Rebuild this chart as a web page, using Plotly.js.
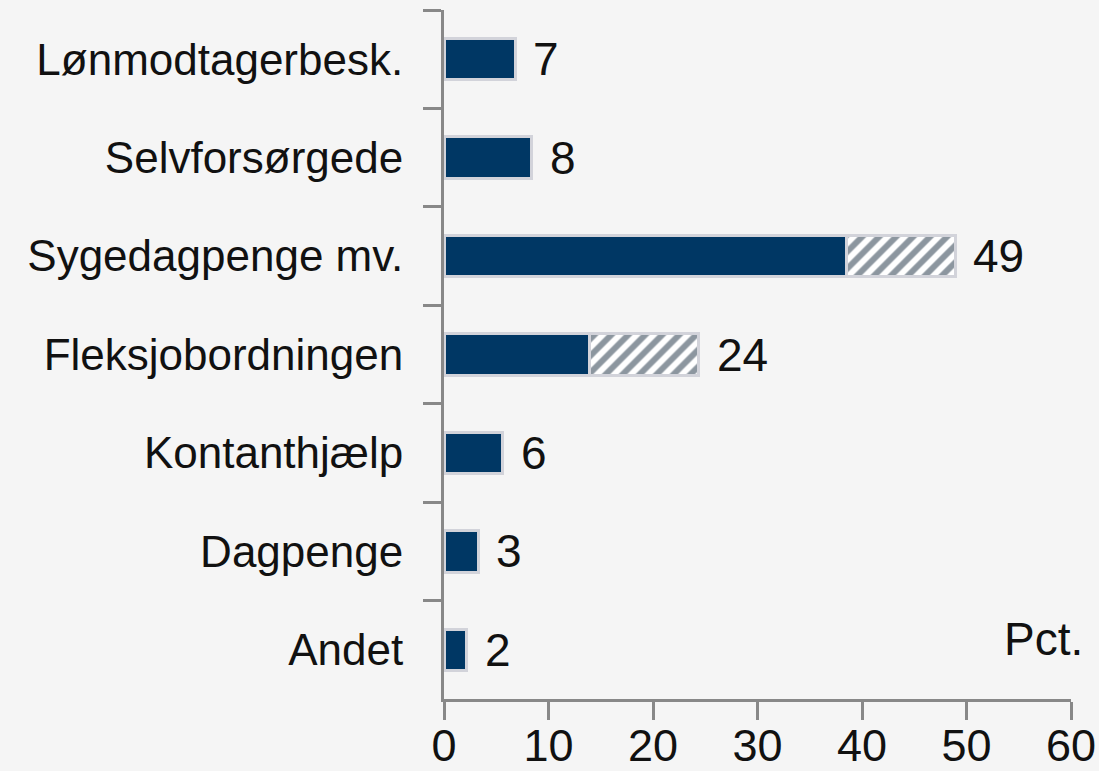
<!DOCTYPE html>
<html><head><meta charset="utf-8">
<script src="https://cdn.plot.ly/plotly-3.0.1.min.js"></script>
<style>html,body{margin:0;padding:0;background:#f5f5f5;}#chart{width:1099px;height:771px;}</style>
</head><body><div id="chart"></div>
<script>
const categories = ["Lønmodtagerbesk.", "Selvforsørgede", "Sygedagpenge mv.", "Fleksjobordningen", "Kontanthjælp", "Dagpenge", "Andet"];
const solidValues = [6.8, 8.4, 38.5, 13.9, 5.6, 3.3, 2.2];
const hatchedValues = [null, null, 10.4, 10.5, null, null, null];
const totalLabels = ["7", "8", "49", "24", "6", "3", "2"];
const xTicks = [0, 10, 20, 30, 40, 50, 60];

const font = "Liberation Sans, Arial, sans-serif";
const ends = solidValues.map((v, i) => v + (hatchedValues[i] || 0));

const traces = [
  {type: "bar", orientation: "h", y: categories, x: solidValues,
   marker: {color: "#003764", line: {color: "#d2d3da", width: 3}}, hoverinfo: "skip"},
  {type: "bar", orientation: "h", y: categories, x: hatchedValues,
   marker: {color: "#8c969f", line: {color: "#d2d3da", width: 3},
            pattern: {shape: "/", bgcolor: "#ffffff", fgcolor: "#8c969f", size: 12, solidity: 0.5}},
   hoverinfo: "skip"}
];

const annotations = categories.map((c, i) => ({
  x: ends[i], y: c, xref: "x", yref: "y", text: totalLabels[i], showarrow: false,
  xanchor: "left", yanchor: "middle", xshift: 16, font: {family: font, size: 46, color: "#111"}
}));
annotations.push({x: 1, y: 0.0, xref: "paper", yref: "paper", xanchor: "right", yanchor: "bottom",
  text: "Pct.", showarrow: false, xshift: 14, yshift: 32, font: {family: font, size: 46, color: "#111"}});

const layout = {
  width: 1099, height: 771,
  paper_bgcolor: "#f5f5f5", plot_bgcolor: "#f5f5f5",
  margin: {l: 444, r: 28, t: 10, b: 72},
  barmode: "stack", bargap: 0.58, showlegend: false,
  font: {family: font, size: 44, color: "#111"},
  xaxis: {range: [0, 60], tickvals: xTicks, ticktext: xTicks.map(String), showgrid: false, zeroline: false,
          showline: true, linecolor: "#888", linewidth: 3, ticks: "outside", ticklen: 18, tickwidth: 3,
          tickcolor: "#888", ticklabelstandoff: -13, tickfont: {family: font, size: 45, color: "#111"}, fixedrange: true},
  yaxis: {type: "category", autorange: "reversed", showgrid: false, zeroline: false,
          showline: true, linecolor: "#888", linewidth: 3, ticks: "outside", tickson: "boundaries",
          ticklen: 18, tickwidth: 3, tickcolor: "#888", ticklabelstandoff: 29,
          tickfont: {family: font, size: 44, color: "#111"}, fixedrange: true},
  annotations: annotations
};
Plotly.newPlot("chart", traces, layout, {displayModeBar: false, staticPlot: true});
</script></body></html>
